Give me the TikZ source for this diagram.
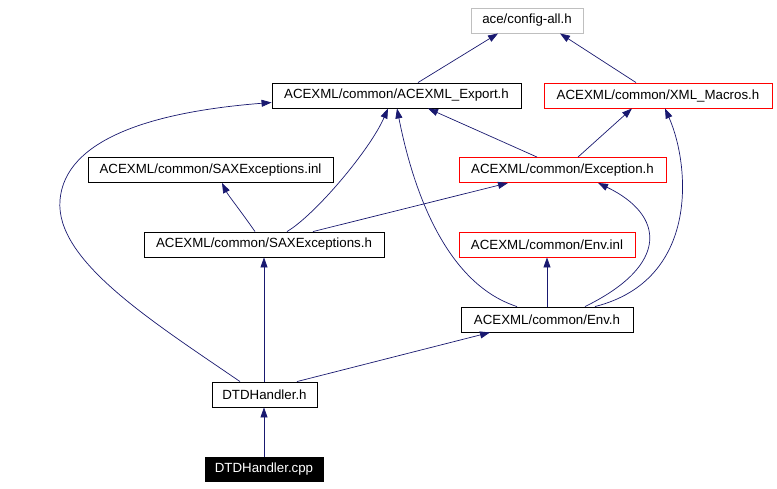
\documentclass[tikz,border=0pt]{standalone}
\usepackage{fontspec}
\setmainfont{Liberation Sans}
\usetikzlibrary{arrows.meta,calc}
\definecolor{edgecol}{RGB}{25,25,112}
\definecolor{grayborder}{RGB}{191,191,191}
\begin{document}
\begin{tikzpicture}[x=1pt,y=-1pt,
 box/.style={draw=black, line width=0.9pt, fill=white, inner sep=0pt, minimum height=25pt, font=\fontsize{13.3}{15}\selectfont},
 redbox/.style={box, draw=red},
 graybox/.style={box, draw=grayborder},
 rootbox/.style={box, fill=black, text=white},
 dep/.style={draw=edgecol, line width=0.7pt, -{Triangle[length=10pt,width=7pt]}}
]
\useasboundingbox[fill=white] (0,0) rectangle (777,488);

\node[graybox, minimum width=112pt] (cfg) at (527,20.5) {ace/config-all.h};
\node[box, minimum width=249pt] (exp) at (396.5,95.5) {ACEXML/common/ACEXML\_Export.h};
\node[redbox, minimum width=228pt] (xml) at (658,95.5) {ACEXML/common/XML\_Macros.h};
\node[box, minimum width=245pt] (saxinl) at (210.5,170) {ACEXML/common/SAXExceptions.inl};
\node[redbox, minimum width=207pt] (exc) at (562.5,170) {ACEXML/common/Exception.h};
\node[box, minimum width=240pt] (saxh) at (264,244.5) {ACEXML/common/SAXExceptions.h};
\node[redbox, minimum width=176pt] (envinl) at (547,244.5) {ACEXML/common/Env.inl};
\node[box, minimum width=172pt] (envh) at (547,319.5) {ACEXML/common/Env.h};
\node[box, minimum width=105pt] (dtdh) at (264.5,394.5) {DTDHandler.h};
\node[rootbox, minimum width=118pt, minimum height=24pt] (dtdcpp) at (264,469) {DTDHandler.cpp};

% edges
\draw[dep] ($(exp.north)+(21.5,0)$) -- ($(cfg.south)+(-29,0)$);
\draw[dep] ($(xml.north)+(-22,0)$) -- ($(cfg.south)+(33,0)$);
\draw[dep] ($(exc.north)+(-25.5,0)$) -- ($(exp.south)+(31.5,0)$);
\draw[dep] ($(exc.north)+(15.5,0)$) -- ($(xml.south)+(-26,0)$);
\draw[dep] ($(saxh.north)+(23,0)$) .. controls (315,215) and (370,150) .. ($(exp.south)+(-8.5,0)$);
\draw[dep] ($(saxh.north)+(-9,0)$) .. controls (240,210) and (228,195) .. ($(saxinl.south)+(11.5,0)$);
\draw[dep] ($(saxh.north)+(49,0)$) -- ($(exc.south)+(-54.5,0)$);
\draw[dep] ($(envh.north)+(-30,0)$) .. controls (450,285) and (415,200) .. ($(exp.south)+(0.5,0)$);
\draw[dep] ($(envh.north)+(48,0)$) .. controls (700,280) and (690,165) .. ($(xml.south)+(7,0)$);
\draw[dep] ($(envh.north)+(38,0)$) .. controls (670,265) and (665,215) .. ($(exc.south)+(35.5,0)$);
\draw[dep] (envh.north) -- (envinl.south);
\draw[dep] ($(dtdh.north)+(-24.5,0)$) .. controls (150,320) and (55,260) .. (60,200) .. controls (65,140) and (150,112) .. ($(exp.west)+(0,7)$);
\draw[dep] ($(dtdh.north)+(-0.5,0)$) -- (saxh.south);
\draw[dep] ($(dtdh.north)+(32.5,0)$) -- ($(envh.south)+(-57,0)$);
\draw[dep] (dtdcpp.north) -- ($(dtdh.south)+(-0.5,0)$);
\end{tikzpicture}
\end{document}
